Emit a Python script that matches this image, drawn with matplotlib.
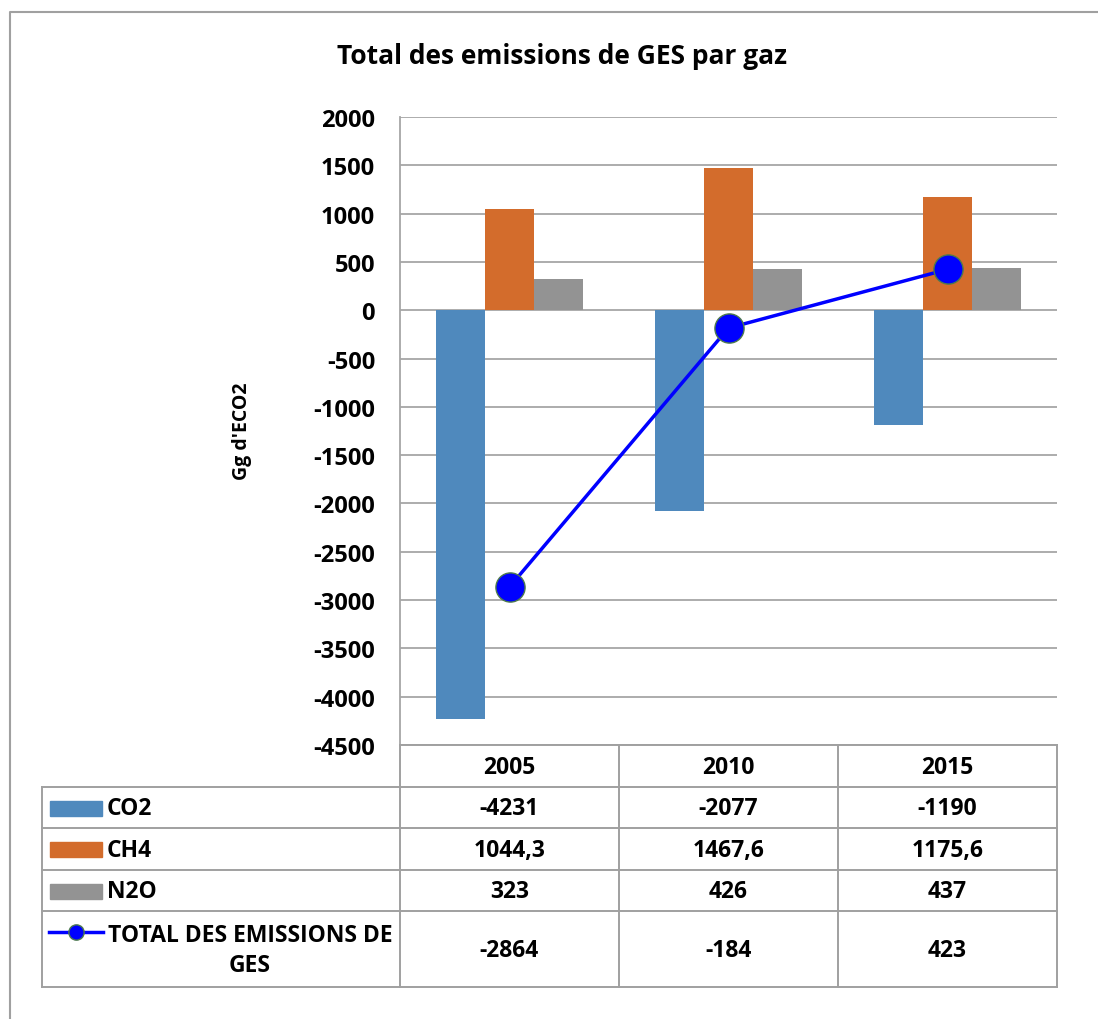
import numpy as np
import matplotlib
matplotlib.use('Agg')
import matplotlib.pyplot as plt
from matplotlib.patches import Rectangle

# Data
years = ['2005', '2010', '2015']
co2 = [-4231, -2077, -1190]
ch4 = [1044.3, 1467.6, 1175.6]
n2o = [323, 426, 437]
total = [-2864, -184, 423]
row_names = ['CO2', 'CH4', 'N2O', 'TOTAL DES EMISSIONS DE\nGES']

bar_colors = ['#4F89BD', '#D36C2C', '#939393']
line_color = '#0000FF'
grid_color = '#A6A6A6'

plt.rcParams['font.family'] = ['Open Sans', 'DejaVu Sans']
plt.rcParams['axes.unicode_minus'] = False

W, H = 1098, 1020
fig = plt.figure(figsize=(W / 100, H / 100), dpi=100)

# plot area in pixels
pl, pr, pt, pb = 400, 1057, 118, 746
ax = fig.add_axes([pl / W, 1 - pb / H, (pr - pl) / W, (pb - pt) / H])

x = np.arange(len(years))
bw = 0.224
ax.bar(x - bw, co2, bw, color=bar_colors[0], zorder=2)
ax.bar(x, ch4, bw, color=bar_colors[1], zorder=2)
ax.bar(x + bw, n2o, bw, color=bar_colors[2], zorder=2)
ax.plot(x, total, color=line_color, lw=2.5, marker='o', ms=21,
        mfc=line_color, mec='#4d7a4d', mew=1, zorder=3)

ax.set_xlim(-0.5, 2.5)
ax.set_ylim(-4500, 2000)
ax.set_yticks(np.arange(-4500, 2001, 500))
ax.set_xticks([])
ax.yaxis.grid(True, color=grid_color, lw=1.3)
ax.set_axisbelow(True)
for s in ['top', 'right', 'bottom']:
    ax.spines[s].set_visible(False)
ax.spines['left'].set_color(grid_color)
ax.spines['left'].set_linewidth(1.3)
ax.tick_params(axis='y', length=0, pad=18, labelsize=17)
for lab in ax.get_yticklabels():
    lab.set_fontweight('bold')

# overlay in pixel coordinates for title, label, data table, frame
ov = fig.add_axes([0, 0, 1, 1])
ov.set_xlim(0, W)
ov.set_ylim(H, 0)
ov.axis('off')
ov.patch.set_alpha(0)

ov.text(562, 56, 'Total des emissions de GES par gaz', ha='center', va='center',
        fontsize=19, fontweight='bold')
ov.text(242, 431, "Gg d'ECO2", ha='center', va='center', rotation=90,
        fontsize=14, fontweight='bold')

# frame
ov.plot([10, 10, W], [H, 13, 13], color='#A0A0A0', lw=1.5, clip_on=False)

# data table
col_x = [42, 400, 619, 838, 1057]
row_y = [746, 788, 829, 871, 912, 988]
tc = '#A0A0A0'
tlw = 1.4
ov.plot([col_x[1], col_x[-1]], [row_y[0], row_y[0]], color=tc, lw=tlw)
for yy in row_y[1:]:
    ov.plot([col_x[0], col_x[-1]], [yy, yy], color=tc, lw=tlw)
ov.plot([col_x[0], col_x[0]], [row_y[1], row_y[-1]], color=tc, lw=tlw)
for xx in col_x[1:]:
    ov.plot([xx, xx], [row_y[0], row_y[-1]], color=tc, lw=tlw)

centers = [(col_x[i] + col_x[i + 1]) / 2 for i in range(1, 4)]
for cx, yr in zip(centers, years):
    ov.text(cx, (row_y[0] + row_y[1]) / 2 + 1, yr, ha='center', va='center',
            fontsize=16.5, fontweight='bold')


def fmt(v):
    if float(v).is_integer():
        return str(int(v))
    return str(v).replace('.', ',')


rows = [co2, ch4, n2o, total]
for r, vals in enumerate(rows):
    ymid = (row_y[r + 1] + row_y[r + 2]) / 2 + 1
    for cx, v in zip(centers, vals):
        ov.text(cx, ymid, fmt(v), ha='center', va='center', fontsize=16.5, fontweight='bold')
    if r < 3:
        ov.add_patch(Rectangle((50, ymid - 8), 52, 15, color=bar_colors[r]))
        ov.text(107, ymid, row_names[r], ha='left', va='center', fontsize=16.5, fontweight='bold')
    else:
        ky = row_y[r + 1] + 21
        ov.plot([49, 103], [ky, ky], color=line_color, lw=2.5)
        ov.plot([76], [ky], marker='o', ms=11, mfc=line_color, mec='#4d7a4d', mew=1)
        ov.text(250, ymid, row_names[r], ha='center', va='center', multialignment='center',
                fontsize=16.5, fontweight='bold', linespacing=1.3)

fig.savefig('out.png', dpi=100)
